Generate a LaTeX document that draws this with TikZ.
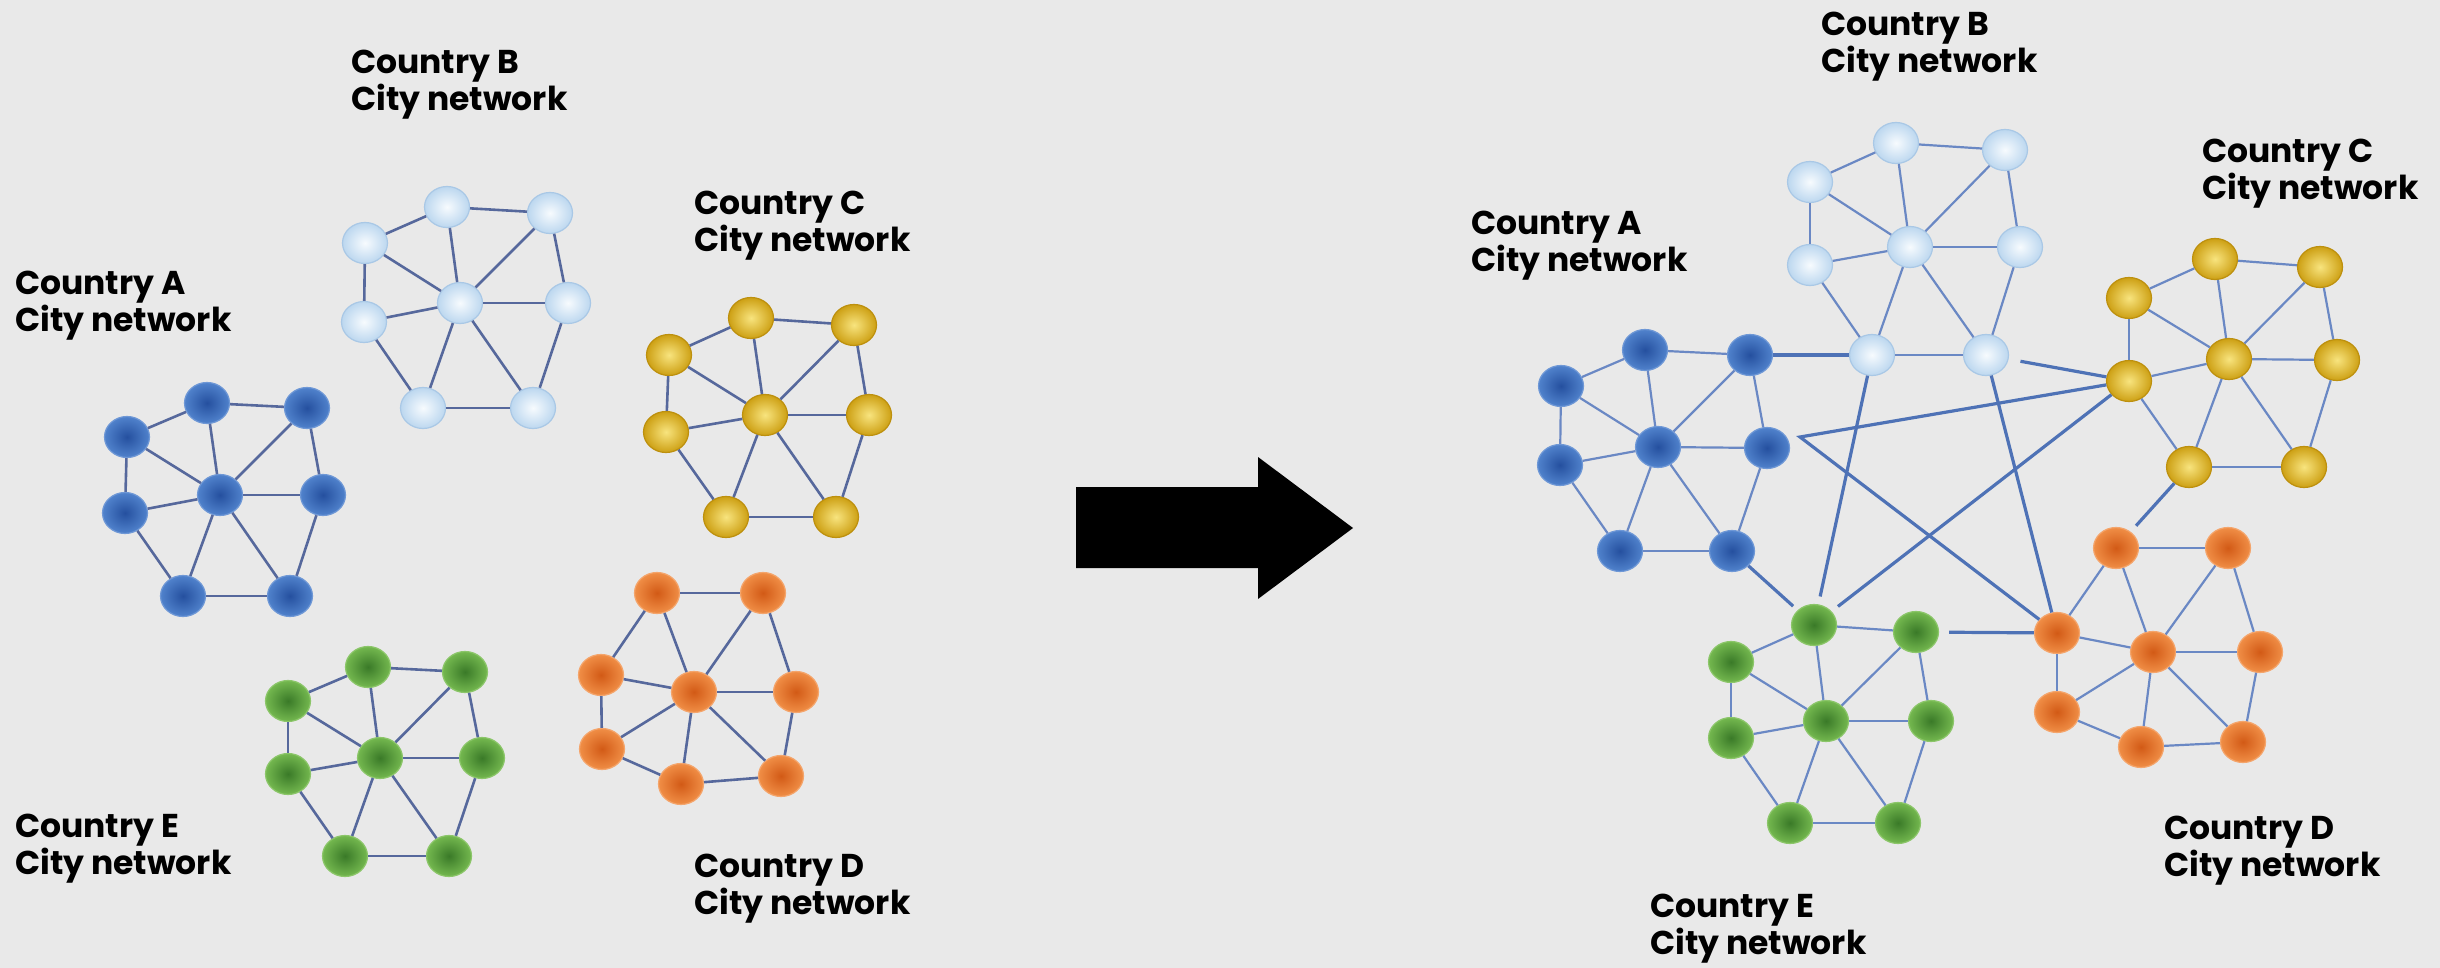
\documentclass[tikz,border=0pt]{standalone}
\usepackage{fontspec}
\setmainfont{Poppins}
\usetikzlibrary{shapes.geometric}
\definecolor{bgc}{HTML}{E9E9E9}
\definecolor{edgeL}{HTML}{56689C}
\definecolor{edgeR}{HTML}{6A88C4}
\definecolor{edgeX}{HTML}{4E72B6}
\definecolor{aIn}{HTML}{25509F}\definecolor{aOut}{HTML}{5082CC}\definecolor{aRim}{HTML}{6F98D6}
\definecolor{bIn}{HTML}{F7FBFE}\definecolor{bOut}{HTML}{BCD7EF}\definecolor{bRim}{HTML}{A9C8E6}
\definecolor{cIn}{HTML}{F8E47E}\definecolor{cOut}{HTML}{CDA014}\definecolor{cRim}{HTML}{BD900E}
\definecolor{dIn}{HTML}{D25A16}\definecolor{dOut}{HTML}{F08E46}\definecolor{dRim}{HTML}{F4A56C}
\definecolor{eIn}{HTML}{3A7A28}\definecolor{eOut}{HTML}{74B84F}\definecolor{eRim}{HTML}{8CC66A}
\begin{document}
\begin{tikzpicture}[x=1pt,y=-1pt,
  city/.style={ellipse, minimum width=45pt, minimum height=41pt, inner sep=0pt, line width=1.2pt},
  cA/.style={city, inner color=aIn, outer color=aOut, draw=aRim},
  cB/.style={city, inner color=bIn, outer color=bOut, draw=bRim},
  cC/.style={city, inner color=cIn, outer color=cOut, draw=cRim},
  cD/.style={city, inner color=dIn, outer color=dOut, draw=dRim},
  cE/.style={city, inner color=eIn, outer color=eOut, draw=eRim},
  eL/.style={draw=edgeL, line width=2.6pt},
  eR/.style={draw=edgeR, line width=2.2pt},
  eX/.style={draw=edgeX, line width=3.2pt},
  lab/.style={anchor=north west, inner sep=0pt, align=left, font=\fontsize{33}{37}\selectfont\bfseries}]
\useasboundingbox (0,0) rectangle (2440,968);
\fill[bgc] (0,0) rectangle (2440,968);

% ---------- left: separate networks ----------
\node[cA] (la1) at (207,403) {}; \node[cA] (la2) at (307,408) {};
\node[cA] (la3) at (127,437) {}; \node[cA] (la4) at (220,495) {};
\node[cA] (la5) at (323,495) {}; \node[cA] (la6) at (125,513) {};
\node[cA] (la7) at (183,596) {}; \node[cA] (la8) at (290,596) {};

\node[cB] (lb1) at (447,207) {}; \node[cB] (lb2) at (550,213) {};
\node[cB] (lb3) at (365,243) {}; \node[cB] (lb4) at (460,303) {};
\node[cB] (lb5) at (568,303) {}; \node[cB] (lb6) at (364,322) {};
\node[cB] (lb7) at (423,408) {}; \node[cB] (lb8) at (533,408) {};

\node[cC] (lc1) at (751,318) {}; \node[cC] (lc2) at (854,325) {};
\node[cC] (lc3) at (669,355) {}; \node[cC] (lc4) at (765,415) {};
\node[cC] (lc5) at (869,415) {}; \node[cC] (lc6) at (666,432) {};
\node[cC] (lc7) at (726,517) {}; \node[cC] (lc8) at (836,517) {};

\node[cD] (ld1) at (657,593) {}; \node[cD] (ld2) at (763,593) {};
\node[cD] (ld3) at (601,675) {}; \node[cD] (ld4) at (694,692) {};
\node[cD] (ld5) at (796,692) {}; \node[cD] (ld6) at (602,749) {};
\node[cD] (ld7) at (681,784) {}; \node[cD] (ld8) at (781,776) {};

\node[cE] (le1) at (368,667) {}; \node[cE] (le2) at (465,672) {};
\node[cE] (le3) at (288,701) {}; \node[cE] (le4) at (380,758) {};
\node[cE] (le5) at (482,758) {}; \node[cE] (le6) at (288,774) {};
\node[cE] (le7) at (345,856) {}; \node[cE] (le8) at (449,856) {};

\foreach \g in {la,lb,lc,le}{
  \foreach \p/\q in {3/1,1/2,1/4,2/4,2/5,3/4,3/6,6/4,4/5,4/7,4/8,6/7,5/8,7/8}
    \draw[eL] (\g\p) -- (\g\q);
}
\foreach \p/\q in {1/2,1/3,1/4,2/4,2/5,3/4,3/6,6/4,4/5,4/7,4/8,6/7,5/8,7/8}
  \draw[eL] (ld\p) -- (ld\q);

\node[lab] (tlb) at (351,50) {Country B\\City network};
\node[lab] (tlc) at (694,191) {Country C\\City network};
\node[lab] (tla) at (15,271) {Country A\\City network};
\node[lab] (tle) at (15,814) {Country E\\City network};
\node[lab] (tld) at (694,854) {Country D\\City network};

% ---------- arrow ----------
\fill[black] (1076,487) -- (1258,487) -- (1258,457) -- (1353,528) -- (1258,599) -- (1258,568) -- (1076,568) -- cycle;

% ---------- right: connected networks ----------
\node[cA] (ra1) at (1645,350) {}; \node[cA] (ra2) at (1750,355) {};
\node[cA] (ra3) at (1561,386) {}; \node[cA] (ra4) at (1658,447) {};
\node[cA] (ra5) at (1767,448) {}; \node[cA] (ra6) at (1560,465) {};
\node[cA] (ra7) at (1620,551) {}; \node[cA] (ra8) at (1732,551) {};

\node[cB] (rb1) at (1896,143) {}; \node[cB] (rb2) at (2005,150) {};
\node[cB] (rb3) at (1810,182) {}; \node[cB] (rb4) at (1910,247) {};
\node[cB] (rb5) at (2020,247) {}; \node[cB] (rb6) at (1810,265) {};
\node[cB] (rb7) at (1872,355) {}; \node[cB] (rb8) at (1986,355) {};

\node[cC] (rc1) at (2215,259) {}; \node[cC] (rc2) at (2320,267) {};
\node[cC] (rc3) at (2129,298) {}; \node[cC] (rc4) at (2229,359) {};
\node[cC] (rc5) at (2337,360) {}; \node[cC] (rc6) at (2129,381) {};
\node[cC] (rc7) at (2189,467) {}; \node[cC] (rc8) at (2304,467) {};

\node[cD] (rd1) at (2116,548) {}; \node[cD] (rd2) at (2228,548) {};
\node[cD] (rd3) at (2057,633) {}; \node[cD] (rd4) at (2153,652) {};
\node[cD] (rd5) at (2260,652) {}; \node[cD] (rd6) at (2057,712) {};
\node[cD] (rd7) at (2141,747) {}; \node[cD] (rd8) at (2243,742) {};

\node[cE] (re1) at (1814,625) {}; \node[cE] (re2) at (1916,632) {};
\node[cE] (re3) at (1731,662) {}; \node[cE] (re4) at (1826,721) {};
\node[cE] (re5) at (1931,721) {}; \node[cE] (re6) at (1731,738) {};
\node[cE] (re7) at (1790,823) {}; \node[cE] (re8) at (1898,823) {};

\foreach \g in {ra,rb,rc,re}{
  \foreach \p/\q in {3/1,1/2,1/4,2/4,2/5,3/4,3/6,6/4,4/5,4/7,4/8,6/7,5/8,7/8}
    \draw[eR] (\g\p) -- (\g\q);
}
\foreach \p/\q in {1/2,1/3,1/4,2/4,2/5,3/4,3/6,6/4,4/5,4/7,4/8,6/7,5/8,7/8}
  \draw[eR] (rd\p) -- (rd\q);

\coordinate (hub) at (1800,437);
\draw[eX] (ra2) -- (rb7);
\draw[eX, shorten <=12pt] (rb8) -- (rc6);
\draw[eX] (rc6) -- (hub) -- (rd3);
\draw[eX, shorten >=8pt] (rb7) -- (re1);
\draw[eX, shorten <=8pt] (re1) -- (rc6);
\draw[eX] (rb8) -- (rd3);
\draw[eX, shorten >=6pt] (ra8) -- (re1);
\draw[eX, shorten <=10pt] (re2) -- (rd3);
\draw[eX, shorten <=8pt] (rd1) -- (rc7);

\node[lab] (trb) at (1821,12) {Country B\\City network};
\node[lab] (trc) at (2202,139) {Country C\\City network};
\node[lab] (tra) at (1471,211) {Country A\\City network};
\node[lab] (trd) at (2164,816) {Country D\\City network};
\node[lab] (tre) at (1650,894) {Country E\\City network};
\end{tikzpicture}
\end{document}
